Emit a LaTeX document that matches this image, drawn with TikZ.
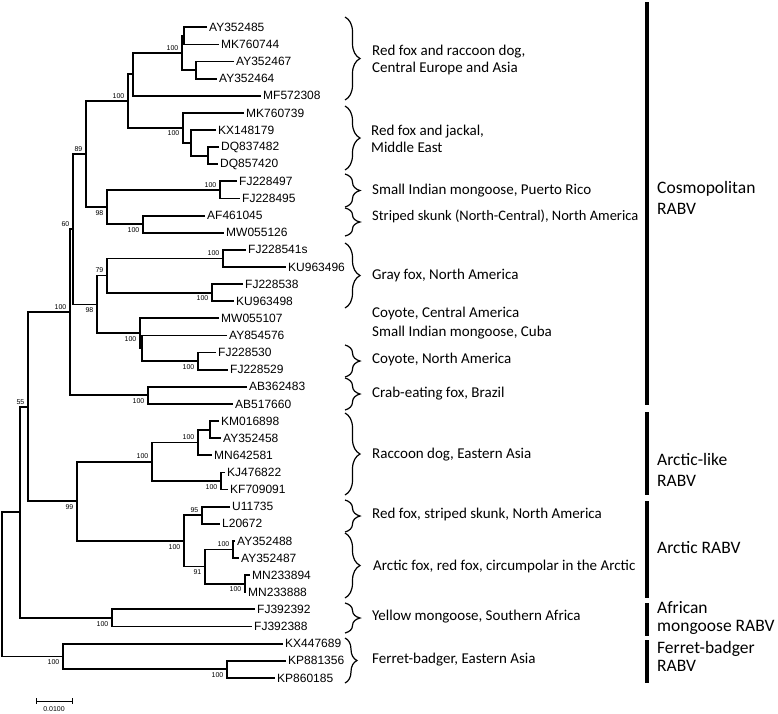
\documentclass[tikz,border=0pt]{standalone}
\usepackage{fontspec}
\setmainfont{Carlito}
\newfontfamily\arialfont{Liberation Sans}
\usetikzlibrary{calc,decorations.pathreplacing}

% one clade: name, x of its vertical, upper child, lower child
\newcommand{\clade}[4]{%
  \path let \p1=($(#3)!.5!(#4)$) in (#2pt,\y1) coordinate (#1);
  \draw[branch] (#3) -| (#1) |- (#4);
}

\begin{document}
\begin{tikzpicture}[x=1pt,y=-1pt,
    branch/.style={line width=1.8pt,line join=miter},
    leaf/.style={anchor=west,inner sep=0pt,xshift=2pt,font=\arialfont\fontsize{12}{14}\selectfont},
    bsup/.style={anchor=south east,inner sep=0pt,xshift=-3.5pt,yshift=2.5pt,font=\arialfont\fontsize{7}{8}\selectfont},
    bsdn/.style={anchor=north east,inner sep=0pt,xshift=-3.5pt,yshift=-3pt,font=\arialfont\fontsize{7}{8}\selectfont},
    brc/.style={decorate,decoration={brace,amplitude=#1},line width=1.2pt},
    brc/.default=15pt,
    region/.style={anchor=west,align=left,inner sep=0pt,font=\fontsize{#1}{17}\selectfont},
    region/.default=15,
    grpbar/.style={line width=3.3pt},
    grp/.style={anchor=west,align=left,inner sep=0pt,font=\fontsize{17.5}{#1}\selectfont},
    grp/.default=21]
  \useasboundingbox (0,0) rectangle (778,713);

  % leaves
  \foreach \i/\tx/\lab in {1/207/AY352485, 2/219/MK760744, 3/234/AY352467,
      4/217/AY352464, 5/261/MF572308, 6/244/MK760739, 7/216/KX148179,
      8/219/DQ837482, 9/218/DQ857420, 10/237/FJ228497, 11/240/FJ228495,
      12/205/AF461045, 13/224/MW055126, 14/246/FJ228541s, 15/286/KU963496,
      16/243/FJ228538, 17/234/KU963498, 18/219/MW055107, 19/227/AY854576,
      20/216/FJ228530, 21/228/FJ228529, 22/247/AB362483, 23/233/AB517660,
      24/219/KM016898, 25/221/AY352458, 26/212/MN642581, 27/225/KJ476822,
      28/228/KF709091, 29/230/U11735, 30/220/L20672, 31/235/AY352488,
      32/239/AY352487, 33/250/MN233894, 34/246/MN233888, 35/255/FJ392392,
      36/252/FJ392388, 37/283/KX447689, 38/286/KP881356, 39/275/KP860185}{
    \coordinate (l\i) at (\tx,{27.3+17.12*(\i-1)});
    \node[leaf] (t\i) at (l\i) {\lab};
  }

  % tree
  \clade{rfA}{184}{l1}{l2}
  \clade{rfB}{196}{l3}{l4}
  \clade{rfC}{182}{rfA}{rfB}
  \clade{rfall}{133}{rfC}{l5}
  \clade{jkA}{208}{l8}{l9}
  \clade{jkB}{191}{l7}{jkA}
  \clade{jackal}{183}{l6}{jkB}
  \clade{eurasia}{128}{rfall}{jackal}
  \clade{mongPR}{220}{l10}{l11}
  \clade{skunk}{143}{l12}{l13}
  \clade{caribskunk}{107}{mongPR}{skunk}
  \clade{oldnew}{86}{eurasia}{caribskunk}
  \clade{grayA}{223}{l14}{l15}
  \clade{grayB}{212}{l16}{l17}
  \clade{grayfox}{107}{grayA}{grayB}
  \clade{coyNA}{198}{l20}{l21}
  \clade{coyB}{142}{l19}{coyNA}
  \clade{coyote}{140}{l18}{coyB}
  \clade{americas}{97}{grayfox}{coyote}
  \clade{cosmoA}{73}{oldnew}{americas}
  \clade{crab}{148}{l22}{l23}
  \clade{cosmo}{70}{cosmoA}{crab}
  \clade{rdA}{210}{l24}{l25}
  \clade{rdB}{198}{rdA}{l26}
  \clade{rdC}{221}{l27}{l28}
  \clade{raccoon}{152}{rdB}{rdC}
  \clade{naarctic}{202}{l29}{l30}
  \clade{arcA}{233}{l31}{l32}
  \clade{arcB}{245}{l33}{l34}
  \clade{arcC}{205}{arcA}{arcB}
  \clade{arctic}{184}{naarctic}{arcC}
  \clade{arcticall}{77}{raccoon}{arctic}
  \clade{lyssa}{28}{cosmo}{arcticall}
  \clade{yellow}{112}{l35}{l36}
  \clade{mainclade}{20}{lyssa}{yellow}
  \clade{fbA}{227}{l38}{l39}
  \clade{ferret}{63}{l37}{fbA}
  \clade{root}{2}{mainclade}{ferret}

  % bootstrap values
  \node[bsup] (b1) at (rfC) {100};
  \node[bsup] (b2) at (eurasia) {100};
  \node[bsdn] (b3) at (jackal) {100};
  \node[bsup] (b4) at (oldnew) {89};
  \node[bsdn] (b5) at (caribskunk) {98};
  \node[bsup] (b6) at (mongPR) {100};
  \node[bsdn] (b7) at (skunk) {100};
  \node[bsup] (b8) at (grayA) {100};
  \node[bsdn] (b9) at (grayB) {100};
  \node[bsup] (b10) at (grayfox) {79};
  \node[bsdn] (b11) at (americas) {98};
  \node[bsdn] (b12) at (coyote) {100};
  \node[bsdn] (b13) at (coyNA) {100};
  \node[bsup] (b14) at (cosmoA) {60};
  \node[bsdn] (b15) at (crab) {100};
  \node[bsup] (b16) at (cosmo) {100};
  \node[bsup] (b17) at (rdB) {100};
  \node[bsdn] (b18) at (rdC) {100};
  \node[bsup] (b19) at (raccoon) {100};
  \node[bsup] (b20) at (naarctic) {95};
  \node[bsup] (b21) at (arcA) {100};
  \node[bsdn] (b22) at (arcB) {100};
  \node[bsdn] (b23) at (arcC) {91};
  \node[bsdn] (b24) at (arctic) {100};
  \node[bsdn] (b25) at (arcticall) {99};
  \node[bsup] (b26) at (lyssa) {55};
  \node[bsdn] (b27) at (yellow) {100};
  \node[bsdn] (b28) at (fbA) {100};
  \node[bsdn] (b29) at (ferret) {100};

  % scale bar
  \coordinate (sbL) at (36,701);
  \coordinate (sbR) at (72,701);
  \draw[line width=1pt] (sbL) -- (sbR);
  \draw[line width=1pt] ($(sbL)+(0,-3)$) -- ($(sbL)+(0,3)$);
  \draw[line width=1pt] ($(sbR)+(0,-3)$) -- ($(sbR)+(0,3)$);
  \node[anchor=north,inner sep=0pt,font=\arialfont\fontsize{7}{8}\selectfont] (sblab) at ($(sbL)!.5!(sbR)+(0,5)$) {0.0100};

  % braces and hosts
  \draw[brc] (345,17) -- (345,100);
  \node[region] (rg1) at (372,60) {Red fox and raccoon dog,\\Central Europe and Asia};
  \draw[brc] (345,106) -- (345,170);
  \node[region] (rg2) at (371,139) {Red fox and jackal,\\Middle East};
  \draw[brc] (345,174) -- (345,207);
  \node[region] (rg3) at (372,191) {Small Indian mongoose, Puerto Rico};
  \draw[brc] (345,208) -- (345,236);
  \node[region=14.5] (rg4) at (372,216) {Striped skunk (North-Central), North America};
  \draw[brc] (345,243) -- (345,308);
  \node[region] (rg5) at (372,275) {Gray fox, North America};
  \node[region] (rg6) at (372,313) {Coyote, Central America};
  \node[region] (rg7) at (372,333) {Small Indian mongoose, Cuba};
  \draw[brc] (345,345) -- (345,377);
  \node[region] (rg8) at (372,359) {Coyote, North America};
  \draw[brc] (345,378) -- (345,410);
  \node[region] (rg9) at (372,394) {Crab-eating fox, Brazil};
  \draw[brc] (345,413) -- (345,495);
  \node[region] (rg10) at (372,455) {Raccoon dog, Eastern Asia};
  \draw[brc] (345,500) -- (345,532);
  \node[region] (rg11) at (372,514) {Red fox, striped skunk, North America};
  \draw[brc] (345,533) -- (345,598);
  \node[region] (rg12) at (373,566) {Arctic fox, red fox, circumpolar in the Arctic};
  \draw[brc] (345,603) -- (345,633);
  \node[region] (rg13) at (372,617) {Yellow mongoose, Southern Africa};
  \draw[brc=12pt] (345,638) -- (345,683);
  \node[region] (rg14) at (372,660) {Ferret-badger, Eastern Asia};

  % lineages
  \draw[grpbar] (647,2) -- (647,405);
  \node[grp] (cosmopolitan) at (657,198) {Cosmopolitan\\RABV};
  \draw[grpbar] (647,412) -- (647,495);
  \node[grp] (arcticlike) at (657,470) {Arctic-like\\RABV};
  \draw[grpbar] (647,501) -- (647,598);
  \node[grp] (arcticrabv) at (657,548) {Arctic RABV};
  \draw[grpbar] (647,603) -- (647,636);
  \node[grp=18] (african) at (657,618) {African\\mongoose RABV};
  \draw[grpbar] (647,640) -- (647,683);
  \node[grp=18] (ferretbadger) at (657,656) {Ferret-badger\\RABV};
\end{tikzpicture}
\end{document}
